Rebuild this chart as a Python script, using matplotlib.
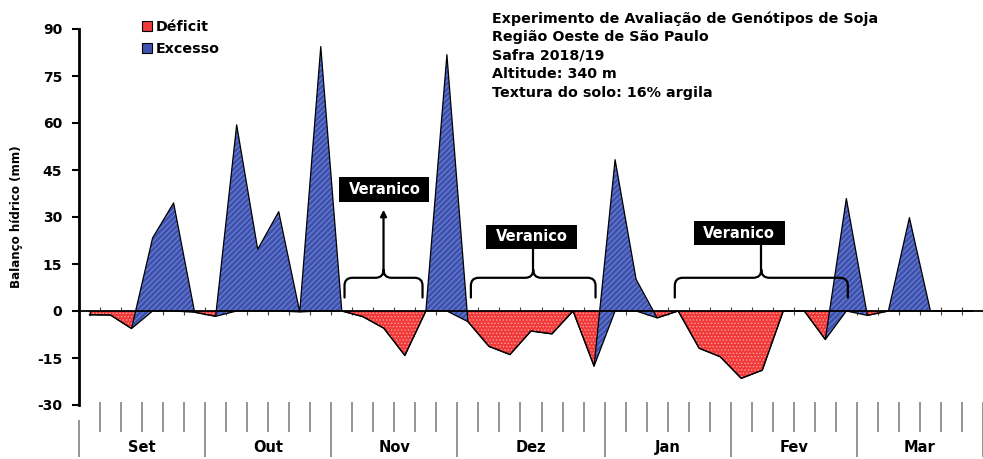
import numpy as np
import matplotlib.pyplot as plt
from matplotlib.patches import Rectangle, Patch, PathPatch
from matplotlib.path import Path

plt.rcParams["font.family"] = ["DejaVu Sans"]
plt.rcParams["font.weight"] = "bold"
plt.rcParams["axes.unicode_minus"] = False
plt.rcParams["hatch.linewidth"] = 0.6

# pentads (5-day periods), Set/2018 .. Mar/2019
months = ["Set", "Out", "Nov", "Dez", "Jan", "Fev", "Mar"]
pentads_per_month = [6, 6, 6, 7, 6, 6, 6]

deficit = [-1.2, -1.3, -5.6, 0, 0, -0.4, -1.7, 0, 0, 0,
           -0.3, 0, 0, -1.8, -5.5, -14.2, 0, 0, -3.4, -11.3,
           -13.9, -6.4, -7.3, 0, -17.6, 0, 0, -2.2, 0, -11.9,
           -14.6, -21.5, -18.9, 0, 0, -9.1, 0, -1.4, 0, 0,
           0, 0, 0]
excesso = [0, 0, 0, 23.3, 34.5, 0, 0, 59.4, 19.7, 31.7,
           0, 84.4, 0, 0, 0, 0, 0, 81.8, 0, 0,
           0, 0, 0, 0, 0, 48.3, 10.1, 0, 0, 0,
           0, 0, 0, 0, 0, 0, 35.9, 0, 0, 29.8,
           0, 0, 0]

info_lines = ["Experimento de Avaliação de Genótipos de Soja",
              "Região Oeste de São Paulo",
              "Safra 2018/19",
              "Altitude: 340 m",
              "Textura do solo: 16% argila"]

# veranico periods: (brace start, brace end, box left, box bottom, box right, box top)
veranicos = [(12.13, 15.84, 11.89, 34.9, 16.16, 42.8),
             (18.14, 24.07, 18.88, 19.9, 23.20, 27.6),
             (27.84, 36.07, 28.74, 21.0, 33.06, 28.7)]

RED = "#F03A3A"
BLUE = "#3E53B0"

x = np.arange(len(deficit))
d = np.array(deficit)
c = d + np.array(excesso)   # stacked area, like the original

fig = plt.figure(figsize=(9.83, 4.59), dpi=100)
ax = fig.add_axes([79 / 983, 54 / 459, 904 / 983, 376 / 459])

n = len(deficit)
bounds = np.arange(n + 1) - 0.5

# small ticks on the zero line (behind the areas)
ax.vlines(bounds, -1.3, 1.3, color="#444444", lw=0.8, zorder=1)

ax.fill_between(x, 0, d, facecolor=RED, edgecolor="none", zorder=2)
ax.fill_between(x, 0, d, facecolor="none", hatch=".....", edgecolor="#ff9c9c", lw=0, zorder=2.1)
ax.fill_between(x, d, c, facecolor=BLUE, edgecolor="none", zorder=3)
ax.fill_between(x, d, c, facecolor="none", hatch="//////", edgecolor="#7c8cd4", lw=0, zorder=3.1)
ax.plot(x, d, color="black", lw=0.9, zorder=4)
ax.plot(x, c, color="black", lw=0.9, zorder=4)
ax.plot([0, 0], [0, d[0]], color="black", lw=0.9, zorder=4)
ax.axhline(0, color="black", lw=1.3, zorder=5)

ax.set_xlim(-0.5, n - 0.5)
ax.set_ylim(-30, 90)
ax.set_yticks(np.arange(-30, 91, 15))
ax.set_xticks([])
for s in ["top", "right", "bottom"]:
    ax.spines[s].set_visible(False)
ax.spines["left"].set_linewidth(2)
ax.tick_params(axis="y", length=5, width=1.5, pad=7, labelsize=10)
ax.set_ylabel("Balanço hídrico (mm)", fontsize=8.6, fontweight="bold")
ax.yaxis.set_label_coords(-0.062, 0.5)

# month axis drawn under the plot
tr = ax.get_xaxis_transform()
month_edges = np.concatenate([[0], np.cumsum(pentads_per_month)]) - 0.5
minor = [b for b in bounds if b not in month_edges]
ax.vlines(minor, -0.072, 0.008, transform=tr, color="#8c8c8c", lw=1.3, clip_on=False)
ax.vlines(month_edges[1:], -0.138, 0.008, transform=tr, color="#8c8c8c", lw=1.3, clip_on=False)
ax.vlines(month_edges[:1], -0.138, -0.04, transform=tr, color="#8c8c8c", lw=1.3, clip_on=False)
for m, a, b in zip(months, month_edges[:-1], month_edges[1:]):
    ax.text((a + b) / 2, -0.113, m, transform=tr, ha="center", va="center",
            fontsize=10.5, fontweight="bold")


def brace(ax, x0, x1, yb=4.3, yh=10.6, yt=13.2, rx=0.38, ry=2.5):
    xc = (x0 + x1) / 2
    verts = [(x0, yb), (x0, yh - ry), (x0, yh), (x0 + rx, yh),
             (xc - rx, yh), (xc, yh), (xc, yt),
             (xc, yh), (xc + rx, yh),
             (x1 - rx, yh), (x1, yh), (x1, yh - ry), (x1, yb)]
    codes = [Path.MOVETO, Path.LINETO, Path.CURVE3, Path.CURVE3,
             Path.LINETO, Path.CURVE3, Path.CURVE3,
             Path.CURVE3, Path.CURVE3,
             Path.LINETO, Path.CURVE3, Path.CURVE3, Path.LINETO]
    ax.add_patch(PathPatch(Path(verts, codes), facecolor="none", edgecolor="black",
                           lw=1.6, zorder=6, capstyle="round", joinstyle="round"))
    return xc, yt


for k, (b0, b1, l, bt, r, tp) in enumerate(veranicos):
    xc, yt = brace(ax, b0, b1)
    if k == 0:
        ax.annotate("", xy=(xc, bt - 2.6), xytext=(xc, yt),
                    arrowprops=dict(arrowstyle="-|>", lw=1.6, color="black",
                                    mutation_scale=9, shrinkA=0, shrinkB=0), zorder=6)
    else:
        ax.plot([xc, xc], [yt, bt], color="black", lw=1.6, zorder=6)
    ax.add_patch(Rectangle((l, bt), r - l, tp - bt, facecolor="black", edgecolor="none", zorder=7))
    ax.text((l + r) / 2, (bt + tp) / 2, "Veranico", color="white", ha="center", va="center",
            fontsize=10.5, fontweight="bold", zorder=8)

handles = [Patch(facecolor=RED, edgecolor="black", lw=0.8, label="Déficit"),
           Patch(facecolor=BLUE, edgecolor="black", lw=0.8, label="Excesso")]
fig.legend(handles=handles, loc="upper left", bbox_to_anchor=(0.1445, 0.957),
           frameon=False, handlelength=0.7, handleheight=0.7, handletextpad=0.25,
           labelspacing=0.55, borderpad=0, borderaxespad=0,
           prop={"size": 10.3, "weight": "bold"})

fig.text(492 / 983, 1 - 11 / 459, "\n".join(info_lines), ha="left", va="top",
         fontsize=10.3, fontweight="bold", linespacing=1.41)

fig.savefig("out.png", dpi=100)
